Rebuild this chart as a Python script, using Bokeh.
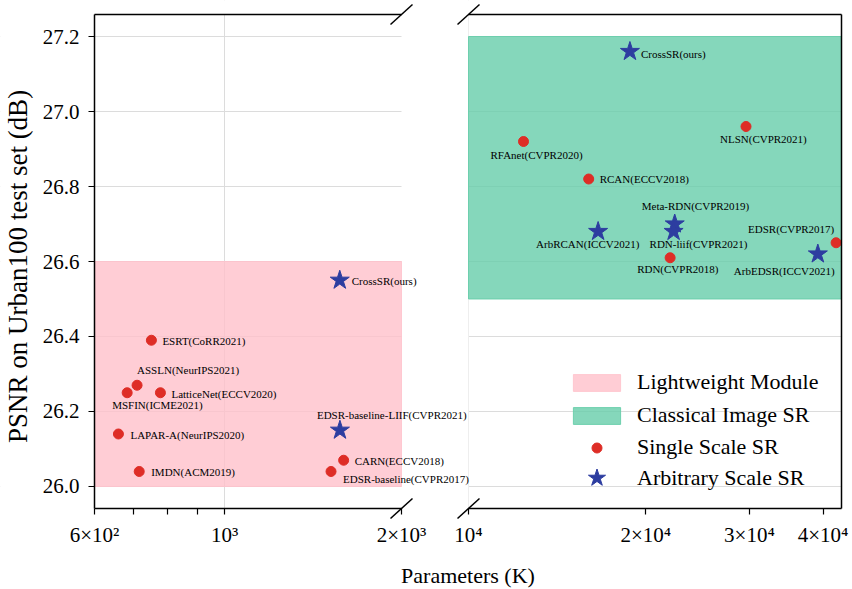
import math
from bokeh.plotting import figure
from bokeh.models import (ColumnDataSource, Range1d, LinearAxis, LogAxis, LogScale, FixedTicker,
                          Legend, LegendItem, LabelSet, Label, Arrow, PrintfTickFormatter,
                          BoxAnnotation, Grid)
from bokeh.embed import file_html
from bokeh.resources import INLINE

SERIF = "Liberation Serif"
RED = "#DE2D26"
BLUE = "#2D3DA0"
PINK = "#FFC0CB"
GREEN = "#66CDAA"
GRID = "#dcdcdc"

# ---------------- data ----------------
# Lightweight models (left panel): parameters in K, PSNR (dB)
light_names = ["CrossSR(ours)", "ESRT(CoRR2021)", "ASSLN(NeurIPS2021)", "MSFIN(ICME2021)",
               "LatticeNet(ECCV2020)", "LAPAR-A(NeurIPS2020)", "IMDN(ACM2019)",
               "EDSR-baseline-LIIF(CVPR2021)", "CARN(ECCV2018)", "EDSR-baseline(CVPR2017)"]
light_params = [1570, 750, 709, 682, 777, 659, 715, 1571, 1594, 1517]
light_psnr = [26.55, 26.39, 26.27, 26.25, 26.25, 26.14, 26.04, 26.15, 26.07, 26.04]
light_kind = ["arbitrary", "single", "single", "single", "single", "single", "single",
              "arbitrary", "single", "single"]

# Classical models (right panel)
classic_names = ["CrossSR(ours)", "RFAnet(CVPR2020)", "NLSN(CVPR2021)", "RCAN(ECCV2018)",
                 "Meta-RDN(CVPR2019)", "RDN-liif(CVPR2021)", "ArbRCAN(ICCV2021)",
                 "RDN(CVPR2018)", "EDSR(CVPR2017)", "ArbEDSR(ICCV2021)"]
classic_params = [18800, 12400, 29600, 16000, 22400, 22300, 16600, 22000, 42100, 39200]
classic_psnr = [27.16, 26.92, 26.96, 26.82, 26.70, 26.68, 26.68, 26.61, 26.65, 26.62]
classic_kind = ["arbitrary", "single", "single", "single", "arbitrary", "arbitrary",
                "arbitrary", "single", "single", "arbitrary"]

# shaded regions
region_names = ["Lightweight Module", "Classical Image SR"]
region_left = [600, 10000]
region_right = [2000, 43000]
region_bottom = [26.0, 26.5]
region_top = [26.6, 27.2]

# axes
y_ticks = [26.0, 26.2, 26.4, 26.6, 26.8, 27.0, 27.2]
left_x_ticks = [600, 700, 800, 900, 1000, 2000]
left_x_labels = ["6×10²", "", "", "", "10³", "2×10³"]
right_x_ticks = [10000, 20000, 30000, 40000]
right_x_labels = ["10⁴", "2×10⁴", "3×10⁴", "4×10⁴"]
left_xlim = (600, 2000)
right_xlim = (10000, 43000)
ylim = (25.9413, 27.2587)

# label placement (pixels: dx right, dy down) -- layout only
light_label_dx = [12, 11, 0, -15, 11, 12, 12, -23, 11, 12]
light_label_dy = [1, 1, -15, 12, 1, 1, 1, -15, 1, 8]
classic_label_dx = [11, -33, -26, 11, -33, -24, -62, -33, -88, -84]
classic_label_dy = [2, 13, 12, 0, -18, 12, 12, 11, -14, 17]

# ---------------- layout (canvas pixels) ----------------
W, H = 852, 589
L_X0, L_X1 = 94, 401      # left panel edges
R_X0, R_X1 = 468, 841     # right panel edges
Y_TOP, Y_BOT = 14, 508    # panel top / bottom

K_L = (L_X1 - L_X0) / math.log10(left_xlim[1] / left_xlim[0])     # px per decade
K_R = (R_X1 - R_X0) / math.log10(right_xlim[1] / right_xlim[0])
PXY = (Y_BOT - Y_TOP) / (ylim[1] - ylim[0])                        # px per dB

# the frame covers the whole canvas; each panel's scale is placed inside it
x_rng = Range1d(left_xlim[0] / 10 ** (L_X0 / K_L), left_xlim[0] * 10 ** ((W - L_X0) / K_L))
xr_rng = Range1d(right_xlim[0] / 10 ** (R_X0 / K_R), right_xlim[0] * 10 ** ((W - R_X0) / K_R))
y_rng = Range1d(ylim[0] - (H - Y_BOT) / PXY, ylim[1] + Y_TOP / PXY)

p = figure(x_axis_type="log", x_range=x_rng, y_range=y_rng,
           extra_x_ranges={"right": xr_rng}, extra_x_scales={"right": LogScale()},
           x_axis_location=None, y_axis_location=None,
           frame_width=W, frame_height=H, min_border=0,
           output_backend="svg", toolbar_location=None)
p.outline_line_color = None

# grids
p.ygrid.ticker = FixedTicker(ticks=y_ticks)
p.xgrid.ticker = FixedTicker(ticks=[1000])
p.add_layout(Grid(dimension=0, x_range_name="right", ticker=FixedTicker(ticks=[10000])))
for g in p.grid:
    g.grid_line_color = GRID
    g.grid_line_width = 1

# keep grid lines inside the two panels
gap_right = left_xlim[1] * 10 ** ((R_X0 - L_X1) / K_L)
for kw in (dict(right=left_xlim[0]), dict(left=left_xlim[1], right=gap_right),
           dict(left=right_xlim[1], x_range_name="right"),
           dict(top=ylim[0]), dict(bottom=ylim[1])):
    p.add_layout(BoxAnnotation(fill_color="white", fill_alpha=1, line_color=None,
                               level="underlay", **kw))


def style_axis(ax):
    ax.major_tick_out = 6
    ax.major_tick_in = 0
    ax.minor_tick_out = 0
    ax.minor_tick_in = 0
    ax.major_label_text_font = SERIF
    ax.major_label_text_font_size = "21px"
    ax.major_label_text_color = "black"
    ax.axis_line_color = "black"
    ax.axis_line_width = 1.5
    ax.major_tick_line_width = 1.2


def x_axis(ticks, labels, **kw):
    ax = LogAxis(ticker=FixedTicker(ticks=ticks),
                 major_label_overrides={t: l for t, l in zip(ticks, labels)}, **kw)
    style_axis(ax)
    ax.major_label_standoff = 8
    return ax


def spine_axis(**kw):
    return LinearAxis(ticker=FixedTicker(ticks=[]), major_tick_out=0, major_tick_in=0,
                      minor_tick_out=0, minor_tick_in=0, major_label_standoff=0,
                      axis_line_color="black", axis_line_width=1.5, **kw)


# left panel axes
ya = LinearAxis(fixed_location=left_xlim[0], bounds=ylim, ticker=FixedTicker(ticks=y_ticks),
                formatter=PrintfTickFormatter(format="%.1f"))
style_axis(ya)
ya.major_label_standoff = 9
p.add_layout(ya, "left")
p.add_layout(x_axis(left_x_ticks, left_x_labels, fixed_location=ylim[0], bounds=left_xlim), "below")
p.add_layout(spine_axis(fixed_location=ylim[1], bounds=left_xlim), "above")

# right panel axes
p.add_layout(x_axis(right_x_ticks, right_x_labels, x_range_name="right",
                    fixed_location=ylim[0], bounds=right_xlim), "below")
p.add_layout(spine_axis(x_range_name="right", fixed_location=ylim[1], bounds=right_xlim), "above")
p.add_layout(spine_axis(x_range_name="right", fixed_location=right_xlim[1], bounds=ylim), "right")

# shaded regions
pink = p.quad(left=region_left[:1], right=region_right[:1], bottom=region_bottom[:1],
              top=region_top[:1], fill_color=PINK, fill_alpha=0.8,
              line_color=PINK, line_alpha=0.8)
green = p.quad(left=region_left[1:], right=region_right[1:], bottom=region_bottom[1:],
               top=region_top[1:], fill_color=GREEN, fill_alpha=0.8,
               line_color=GREEN, line_alpha=0.9, x_range_name="right")


def add_points(names, params, psnr, kind, dxs, dys, rng):
    src_s = ColumnDataSource(dict(
        x=[x for x, k in zip(params, kind) if k == "single"],
        y=[y for y, k in zip(psnr, kind) if k == "single"]))
    src_a = ColumnDataSource(dict(
        x=[x for x, k in zip(params, kind) if k == "arbitrary"],
        y=[y for y, k in zip(psnr, kind) if k == "arbitrary"]))
    dots = p.scatter("x", "y", source=src_s, marker="circle", size=10,
                     fill_color=RED, line_color=RED, x_range_name=rng)
    stars = p.scatter("x", "y", source=src_a, marker="star", size=20,
                      fill_color=BLUE, line_color=BLUE, x_range_name=rng)
    lab_src = ColumnDataSource(dict(x=params, y=psnr, text=names, dx=dxs,
                                    dy=[-d for d in dys]))
    p.add_layout(LabelSet(x="x", y="y", text="text", source=lab_src, x_range_name=rng,
                          x_offset="dx", y_offset="dy", text_font=SERIF,
                          text_font_size="11px", text_color="black",
                          text_align="left", text_baseline="middle"))
    return dots, stars


add_points(light_names, light_params, light_psnr, light_kind,
           light_label_dx, light_label_dy, "default")
dots_r, stars_r = add_points(classic_names, classic_params, classic_psnr, classic_kind,
                             classic_label_dx, classic_label_dy, "right")

# broken-axis marks
for rng, x_at, k in (("default", left_xlim[1], K_L), ("right", right_xlim[0], K_R)):
    kx = 10 ** (11 / k)
    ky = 10 / PXY
    for yb in ylim:
        p.add_layout(Arrow(end=None, x_start=x_at / kx, y_start=yb - ky,
                           x_end=x_at * kx, y_end=yb + ky, x_range_name=rng,
                           line_color="black", line_width=1.5))

# axis titles
p.add_layout(Label(x=17, y=H - 266, x_units="screen", y_units="screen",
                   text="PSNR on Urban100 test set (dB)", angle=math.pi / 2,
                   text_align="center", text_baseline="middle", text_font=SERIF,
                   text_font_size="27px", text_color="black"))
p.add_layout(Label(x=(L_X0 + R_X1) / 2, y=H - 575, x_units="screen", y_units="screen",
                   text="Parameters (K)", text_align="center", text_baseline="middle",
                   text_font=SERIF, text_font_size="22px", text_color="black"))


# legends
def mk_legend(items, gh, loc, spacing=0):
    lg = Legend(items=items, location=loc, orientation="vertical", glyph_width=59,
                glyph_height=gh, label_height=20, label_standoff=11, spacing=spacing,
                padding=0, margin=0, border_line_color=None, background_fill_alpha=0,
                label_text_font=SERIF, label_text_font_size="22px", label_text_color="black")
    p.add_layout(lg)


LEG_X = R_X0 + 99
mk_legend([LegendItem(label=region_names[0], renderers=[pink]),
           LegendItem(label=region_names[1], renderers=[green])], 21, (LEG_X, H - 428), spacing=7)
mk_legend([LegendItem(label="Single Scale SR", renderers=[dots_r])], 25, (LEG_X, H - 460))
mk_legend([LegendItem(label="Arbitrary Scale SR", renderers=[stars_r])], 45, (LEG_X, H - 500))

open("out.html", "w").write(file_html(p, INLINE))
